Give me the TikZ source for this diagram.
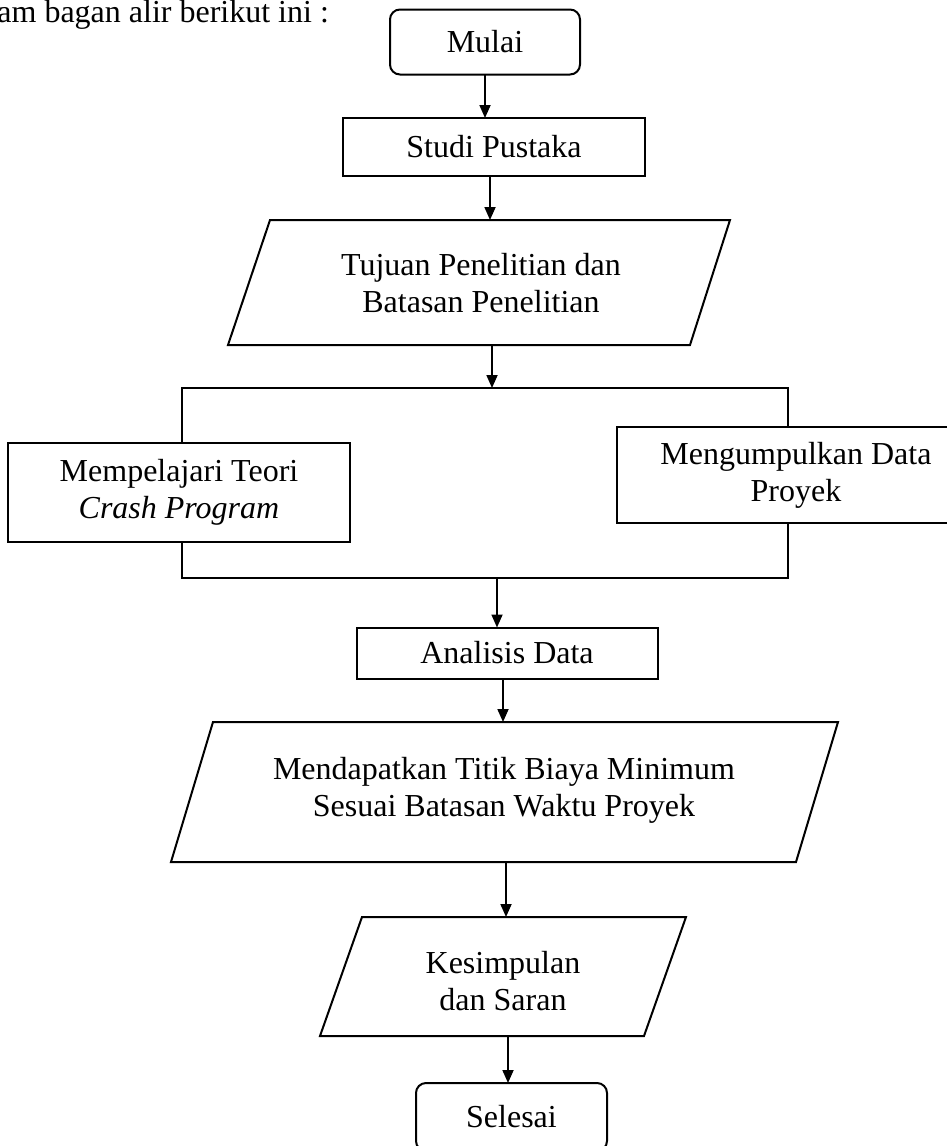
\documentclass[tikz,border=0pt]{standalone}
\usepackage{fontspec}
\setmainfont{Liberation Serif}
\usetikzlibrary{arrows.meta}
\begin{document}
\begin{tikzpicture}[x=0.5pt,y=-0.5pt,
  txt/.style={font=\fontsize{16pt}{18.5pt}\selectfont, align=center, inner sep=0pt},
  box/.style={txt, draw, line width=1pt, fill=white, outer sep=0pt},
  term/.style={box, rounded corners=5pt},
  para/.style={draw, line width=1pt, fill=white, line join=miter},
  arr/.style={draw, line width=0.9pt, -{Triangle[length=6.5pt,width=5.5pt]}}]
\useasboundingbox (0,0) rectangle (947,1146);
\clip (0,0) rectangle (947,1146);
\fill[white] (0,0) rectangle (947,1146);

% header line of the page
\node[txt, anchor=base west] (hdr) at (-3,22) {am bagan alir berikut ini :};

% terminal and process boxes
\node[term, minimum width=95pt, minimum height=32.5pt] (mulai) at (485,42) {Mulai};
\node[box, minimum width=151pt, minimum height=29pt] (studi) at (494,147) {Studi Pustaka};

% parallelogram 1
\draw[para] (270,220) -- (730,220) -- (690,345) -- (228,345) -- cycle;
\node[txt] (tujuan) at (481,283) {Tujuan Penelitian dan\\Batasan Penelitian};
\coordinate (tujN) at (490,220);
\coordinate (tujS) at (492,345);

% group box with two parallel activities
\node[box, minimum width=303pt, minimum height=95pt] (grp) at (485,483) {};
\node[box, minimum width=171pt, minimum height=49.5pt] (teori) at (179,492)
  {Mempelajari Teori\\\textit{Crash Program}};
\node[box, minimum width=179.5pt, minimum height=48pt] (data) at (796,475)
  {Mengumpulkan Data\\Proyek};

\node[box, minimum width=150.5pt, minimum height=25.5pt] (analisis) at (507,653) {Analisis Data};

% parallelogram 2
\draw[para] (213,722) -- (838,722) -- (796,862) -- (171,862) -- cycle;
\node[txt] (titik) at (504,790) {Mendapatkan Titik Biaya Minimum\\Sesuai Batasan Waktu Proyek};
\coordinate (titN) at (503,722);
\coordinate (titS) at (506,862);

% parallelogram 3
\draw[para] (362,917) -- (686,917) -- (644,1036) -- (320,1036) -- cycle;
\node[txt] (kesimpulan) at (503,981) {Kesimpulan\\dan Saran};
\coordinate (kesN) at (506,917);
\coordinate (kesS) at (508,1036);

\node[term, minimum width=95.5pt, minimum height=34pt] (selesai) at (511.5,1117) {Selesai};

% connectors
\draw[arr] (mulai.south) -- (mulai.south |- studi.north);
\draw[arr] (studi.south -| tujN) -- (tujN);
\draw[arr] (tujS) -- (tujS |- grp.north);
\draw[arr] (grp.south -| 497,0) -- (analisis.north -| 497,0);
\draw[arr] (analisis.south -| titN) -- (titN);
\draw[arr] (titS) -- (kesN |- kesN);
\draw[arr] (kesS) -- (kesS |- selesai.north);
\end{tikzpicture}
\end{document}
